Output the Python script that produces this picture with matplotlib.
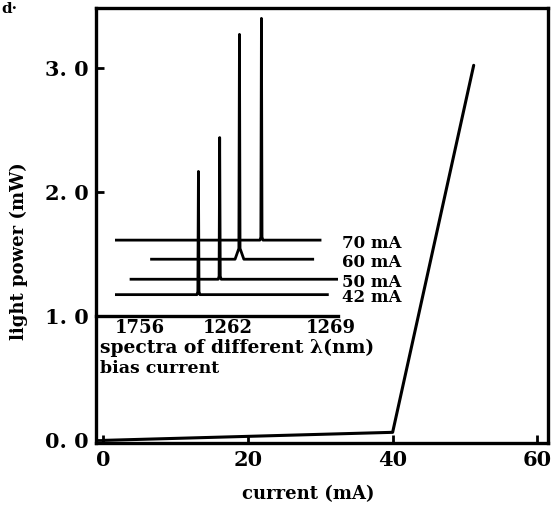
#!/usr/bin/env python3
import matplotlib
matplotlib.use("Agg")
import matplotlib.pyplot as plt

# L-I curve (current in mA, light power in mW)
current = [0, 40, 51.2]
power = [0.0, 0.065, 3.02]

# inset: spectra at several bias currents (arbitrary units, stacked)
bias_labels = ["42 mA", "50 mA", "60 mA", "70 mA"]
trace_start = [1254.4, 1255.4, 1256.8, 1254.4]
trace_end = [1268.8, 1269.5, 1267.8, 1268.3]
peak_wl = [1260.0, 1261.45, 1262.8, 1264.3]
peak_height = [40, 46, 73, 72]
trace_offset = [7, 12, 18.5, 24.7]
# half width of the peak foot (nm) and its height
foot_width = [0.1, 0.1, 0.3, 0.1]
foot_height = [1.0, 1.0, 3.5, 1.0]

wl_ticks = [1256, 1262, 1269]
wl_tick_labels = ["1756", "1262", "1269"]

x_ticks = [0, 20, 40, 60]
y_ticks = [0, 1, 2, 3]
y_tick_labels = ["0. 0", "1. 0", "2. 0", "3. 0"]

plt.rcParams["font.family"] = ["DejaVu Serif"]
plt.rcParams["font.weight"] = "bold"


def draw_chart():
    fig = plt.figure(figsize=(5.51, 5.12), dpi=100)
    ax = fig.add_axes([0.174, 0.135, 0.821, 0.849])

    ax.plot(current, power, color="black", lw=2.2, solid_capstyle="round")

    ax.set_xlim(-1, 61.5)
    ax.set_ylim(-0.02, 3.48)
    ax.set_xticks(x_ticks)
    ax.set_yticks(y_ticks)
    ax.set_yticklabels(y_tick_labels)
    ax.tick_params(direction="in", length=6, width=2, labelsize=15, pad=5)
    for s in ax.spines.values():
        s.set_linewidth(2.4)

    ax.set_xlabel("current (mA)", fontsize=13, fontweight="bold")
    ax.set_ylabel("light power (mW)", fontsize=13, fontweight="bold")
    ax.xaxis.set_label_coords(0.47, -0.098)
    ax.yaxis.set_label_coords(-0.15, 0.44)

    # inset spectra, sitting on the 1.0 mW line
    ins = ax.inset_axes([-1, 1.0, 33.4, 2.48], transform=ax.transData)
    ins.set_facecolor("none")
    for k in ["top", "right", "left"]:
        ins.spines[k].set_visible(False)
    ins.spines["bottom"].set_linewidth(2.4)
    ins.set_xlim(1253, 1269.5)
    ins.set_ylim(0, 100)
    ins.set_yticks([])
    ins.set_xticks(wl_ticks)
    ins.set_xticklabels(wl_tick_labels)
    ins.tick_params(axis="x", length=0, labelsize=13, pad=2)

    for i in range(len(bias_labels)):
        p = peak_wl[i]
        off = trace_offset[i]
        fw = foot_width[i]
        fh = foot_height[i]
        xs = [trace_start[i], p - fw, p - 0.04, p, p + 0.04, p + fw, trace_end[i]]
        ys = [off, off, off + fh, off + peak_height[i], off + fh, off, off]
        ins.plot(xs, ys, color="black", lw=2.0)
        ins.text(1269.8, off - 1, bias_labels[i], fontsize=12, fontweight="bold",
                 va="center", ha="left", clip_on=False)

    ins.text(0.015, -0.104, "spectra of different λ(nm)", transform=ins.transAxes,
             fontsize=13.5, fontweight="bold", va="center", ha="left")
    ins.text(0.015, -0.17, "bias current", transform=ins.transAxes,
             fontsize=12.5, fontweight="bold", va="center", ha="left")

    fig.text(0.002, 0.982, "d·", fontsize=11, fontweight="bold", va="center")

    fig.savefig("out.png", dpi=100)


if __name__ == "__main__":
    draw_chart()
